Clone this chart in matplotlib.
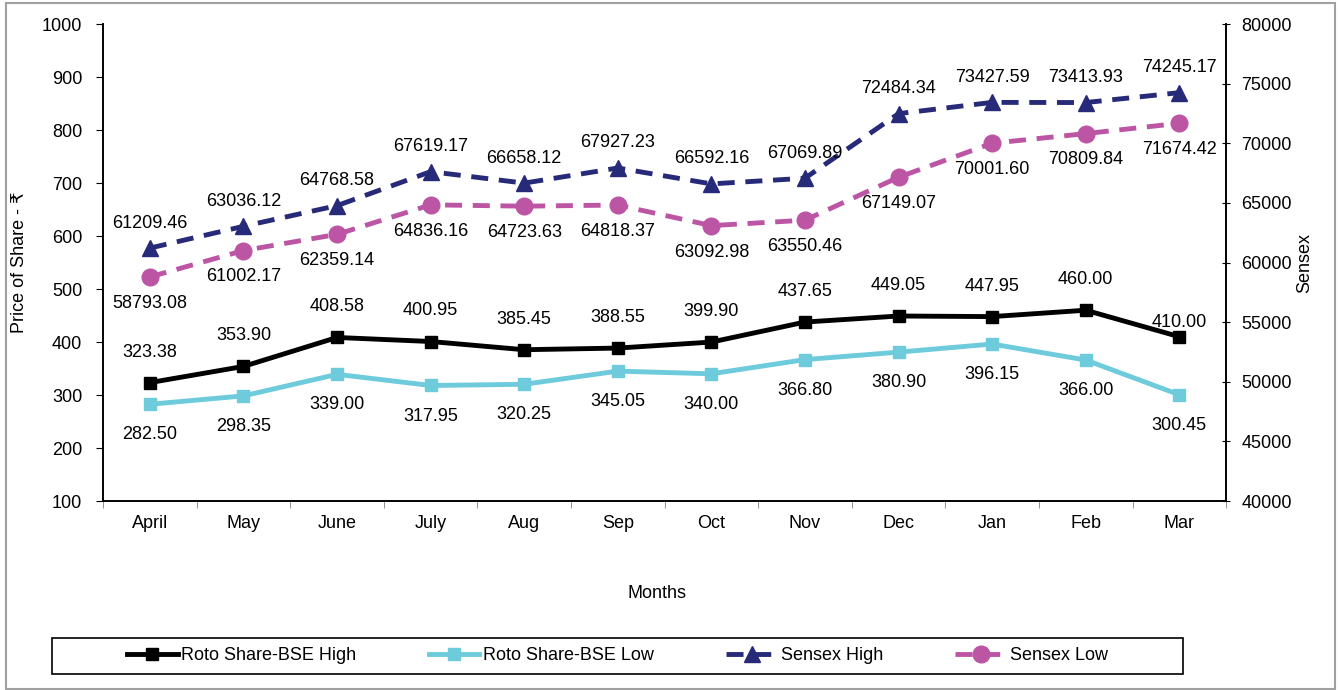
#!/usr/bin/env python3
# -*- coding: utf-8 -*-
"""Roto share price vs Sensex, monthly high / low"""

import matplotlib
matplotlib.use("Agg")
import matplotlib.pyplot as plt
from matplotlib.patches import Rectangle

months = ["April", "May", "June", "July", "Aug", "Sep", "Oct", "Nov", "Dec", "Jan", "Feb", "Mar"]
roto_high = [323.38, 353.90, 408.58, 400.95, 385.45, 388.55, 399.90, 437.65, 449.05, 447.95, 460.00, 410.00]
roto_low = [282.50, 298.35, 339.00, 317.95, 320.25, 345.05, 340.00, 366.80, 380.90, 396.15, 366.00, 300.45]
sensex_high = [61209.46, 63036.12, 64768.58, 67619.17, 66658.12, 67927.23, 66592.16, 67069.89,
               72484.34, 73427.59, 73413.93, 74245.17]
sensex_low = [58793.08, 61002.17, 62359.14, 64836.16, 64723.63, 64818.37, 63092.98, 63550.46,
              67149.07, 70001.60, 70809.84, 71674.42]

plt.rcParams["font.family"] = ["Liberation Sans", "DejaVu Sans"]
plt.rcParams["font.size"] = 13

C_HIGH = "#000000"
C_LOW = "#6dcbdc"
C_SHIGH = "#262a78"
C_SLOW = "#bd55a5"
FS = 13

fig = plt.figure(figsize=(13.4, 6.9), dpi=100)
ax1 = fig.add_axes([0.0769, 0.2739, 0.915 - 0.0769, 0.9652 - 0.2739])
ax2 = ax1.twinx()

x = list(range(len(months)))

ax1.plot(x, roto_high, color=C_HIGH, lw=3.5, marker="s", ms=9, label="Roto Share-BSE High", zorder=3)
ax1.plot(x, roto_low, color=C_LOW, lw=3.5, marker="s", ms=9, label="Roto Share-BSE Low", zorder=3)
ax2.plot(x, sensex_high, color=C_SHIGH, lw=3.5, ls=(0, (3.5, 2.2)), marker="^", ms=12,
         label="Sensex High")
ax2.plot(x, sensex_low, color=C_SLOW, lw=3.5, ls=(0, (3.5, 2.2)), marker="o", ms=12,
         label="Sensex Low")

# data labels
for i in x:
    dy = 10 if i == len(x) - 1 else 22
    ax1.annotate(f"{roto_high[i]:.2f}", (i, roto_high[i]), xytext=(0, dy), textcoords="offset points",
                 ha="center", va="center", fontsize=FS)
    ax1.annotate(f"{roto_low[i]:.2f}", (i, roto_low[i]), xytext=(0, -22), textcoords="offset points",
                 ha="center", va="center", fontsize=FS)
    ax2.annotate(f"{sensex_high[i]:.2f}", (i, sensex_high[i]), xytext=(0, 18), textcoords="offset points",
                 ha="center", va="center", fontsize=FS)
    ax2.annotate(f"{sensex_low[i]:.2f}", (i, sensex_low[i]), xytext=(0, -19), textcoords="offset points",
                 ha="center", va="center", fontsize=FS)

ax1.set_xlim(-0.5, len(months) - 0.5)
ax1.set_ylim(100, 1000)
ax1.set_yticks(range(100, 1001, 100))
ax2.set_ylim(40000, 80000)
ax2.set_yticks(range(40000, 80001, 5000))

ax1.set_xticks(x)
ax1.set_xticklabels(months)
ax1.set_xticks([i - 0.5 for i in range(len(months) + 1)], minor=True)
ax1.tick_params(axis="x", which="major", length=0, pad=10, labelsize=FS)
ax1.tick_params(axis="x", which="minor", length=5, direction="out", color="#808080")
ax1.tick_params(axis="y", length=5, direction="out", pad=10, labelsize=FS)
ax2.tick_params(axis="y", length=6, direction="inout", pad=8, labelsize=FS)

for ax in (ax1, ax2):
    ax.spines["top"].set_visible(False)
    for s in ("left", "right", "bottom"):
        ax.spines[s].set_linewidth(1.2)

ax1.set_ylabel("Price of Share - \u20b9", fontsize=FS, labelpad=10)
ax2.set_ylabel("Sensex", fontsize=FS, labelpad=3)
fig.text(0.49, 1 - 593 / 690, "Months", ha="center", va="center", fontsize=FS)

# legend: box drawn separately, entries centred inside
h1, l1 = ax1.get_legend_handles_labels()
h2, l2 = ax2.get_legend_handles_labels()
leg = fig.legend(h1 + h2, l1 + l2, loc="center", ncol=4,
                 bbox_to_anchor=(0.4608, 0.0493), bbox_transform=fig.transFigure,
                 frameon=False, fontsize=FS, handlelength=2.8, handletextpad=0.22,
                 columnspacing=4.0, numpoints=1)
fig.patches.append(Rectangle((52 / 1340, 1 - 674 / 690), 1131 / 1340, 36 / 690,
                             transform=fig.transFigure, fill=False, edgecolor="black", lw=1.2))

# outer gray border of the chart area
fig.patches.append(Rectangle((6 / 1340, 0.002), 1329 / 1340, 1 - 0.002 - 3 / 690,
                             transform=fig.transFigure, fill=False, edgecolor="#a0a0a0", lw=1.5))

fig.savefig("out.png", dpi=100)
plt.close(fig)
